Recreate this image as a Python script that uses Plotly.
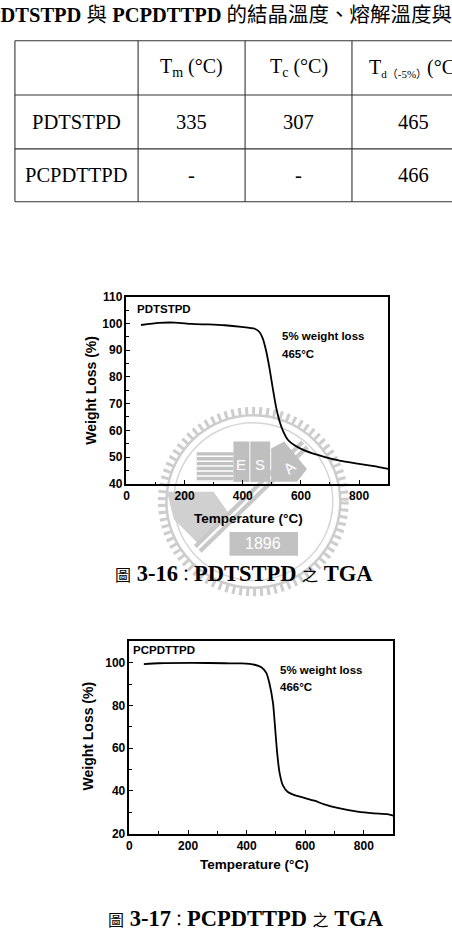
import plotly.graph_objects as go

W, H = 452, 947
def px(x): return x / W
def py(y): return 1 - y / H

# ---------------- data ----------------
temp1 = [50, 110, 167, 224, 281, 338, 395, 441, 458, 469, 481, 492, 503, 515, 526, 538, 555, 578, 612, 680, 737, 794, 851, 900]
wt1 = [99.4, 100.2, 100.3, 99.8, 99.6, 99.3, 98.7, 98.0, 96.7, 94.3, 89.4, 83.2, 75.9, 68.5, 63.6, 59.9, 56.5, 54.4, 52.5, 50.1, 48.6, 47.6, 46.6, 45.6]
temp2 = [49, 99.5, 212.6, 325.6, 382, 427, 450, 467, 478, 490, 497.5, 504, 512, 523.5, 540.5, 563, 597, 631, 665, 710, 778, 834, 880, 900]
wt2 = [99.4, 99.8, 100.0, 99.8, 99.7, 99.1, 97.9, 95.3, 90.2, 81.0, 68.7, 57.9, 48.7, 42.6, 39.5, 38.0, 36.7, 35.4, 33.7, 32.0, 30.3, 29.5, 29.1, 28.4]

table_title = "<b>PDTSTPD</b> 與 <b>PCPDTTPD</b> 的結晶溫度、熔解溫度與"
table_header = ["", "T<sub>m</sub> (°C)", "T<sub>c</sub> (°C)", "T<sub><span style='font-size:11px'>d（-5%）</span></sub>(°C)"]
table_rows = [["PDTSTPD", "335", "307", "465"],
              ["PCPDTTPD", "-", "-", "466"]]

sample1, sample2 = "PDTSTPD", "PCPDTTPD"
td1, td2 = "465", "466"
caption1 = "<span style='font-size:16px'>圖</span> <b>3-16</b><span style='font-size:16px'>：</span><b>PDTSTPD</b> <span style='font-size:16px'>之</span> <b>TGA</b>"
caption2 = "<span style='font-size:16px'>圖</span> <b>3-17</b><span style='font-size:16px'>：</span><b>PCPDTTPD</b> <span style='font-size:16px'>之</span> <b>TGA</b>"

# ---------------- figure ----------------
fig = go.Figure()
fig.add_trace(go.Scatter(x=temp1, y=wt1, mode="lines", line=dict(color="black", width=1.8, shape="spline", smoothing=0.6),
                         xaxis="x", yaxis="y", showlegend=False, hoverinfo="skip"))
fig.add_trace(go.Scatter(x=temp2, y=wt2, mode="lines", line=dict(color="black", width=1.8, shape="spline", smoothing=0.6),
                         xaxis="x2", yaxis="y2", showlegend=False, hoverinfo="skip"))

SANS = "Liberation Sans, Arial, sans-serif"
SERIF = "Liberation Serif, Times New Roman, Noto Sans CJK TC, serif"
tickfont = dict(family=SANS, size=12, color="black", weight="bold")
common = dict(showline=True, linecolor="black", linewidth=1.5, mirror=True, ticks="inside", ticklen=4,
              tickwidth=1.2, tickcolor="black", showgrid=False, zeroline=False, tickfont=tickfont, fixedrange=True)
minor_x = dict(dtick=100, ticks="inside", ticklen=2.5, tickcolor="black", tickwidth=1, showgrid=False)

fig.update_layout(
    width=W, height=H, margin=dict(l=0, r=0, t=0, b=0),
    paper_bgcolor="white", plot_bgcolor="rgba(0,0,0,0)",
    xaxis=dict(domain=[px(124.3), px(387.7)], range=[0, 900], dtick=200, anchor="y", minor=minor_x, **common),
    yaxis=dict(domain=[py(484), py(294)], range=[40, 110], dtick=10, anchor="x",
               minor=dict(dtick=5, ticks="inside", ticklen=2.5, tickcolor="black", tickwidth=1, showgrid=False), **common),
    xaxis2=dict(domain=[px(127.3), px(392.8)], range=[0, 900], dtick=200, anchor="y2", minor=minor_x, **common),
    yaxis2=dict(domain=[py(839), py(644)], range=[20, 110], tick0=20, dtick=20, anchor="x2",
                minor=dict(dtick=10, ticks="inside", ticklen=2.5, tickcolor="black", tickwidth=1, showgrid=False), **common),
)

shapes = []
annos = []

def ann(x, y, text, size, family=SANS, weight="bold", xanchor="center", color="black", angle=0):
    annos.append(dict(x=px(x), y=py(y), xref="paper", yref="paper", text=text, showarrow=False,
                      xanchor=xanchor, yanchor="middle", textangle=angle,
                      font=dict(family=family, size=size, color=color, weight=weight)))

# ---------------- watermark (decorative) ----------------
cx, cy = 252, 502
def circ(r, width, color, dash="solid"):
    shapes.append(dict(type="circle", xref="paper", yref="paper", layer="below",
                       x0=px(cx - r), x1=px(cx + r), y0=py(cy + r), y1=py(cy - r),
                       line=dict(color=color, width=width, dash=dash)))
circ(92, 8, "#cdcdcd", "3px,4px")
circ(87.5, 2.5, "#cdcdcd")
circ(80, 1.5, "#d6d6d6")

def rect(x0, y0, x1, y1, fill):
    shapes.append(dict(type="rect", xref="paper", yref="paper", layer="below",
                       x0=px(x0), x1=px(x1), y0=py(y1), y1=py(y0), fillcolor=fill, line=dict(width=0)))
def seg(x0, y0, x1, y1, color, width):
    shapes.append(dict(type="line", xref="paper", yref="paper", layer="below",
                       x0=px(x0), x1=px(x1), y0=py(y0), y1=py(y1), line=dict(color=color, width=width)))

shapes.append(dict(type="path", xref="paper", yref="paper", layer="below", fillcolor="#d0d0d0", line=dict(width=0),
                   path="M {} {} L {} {} L {} {} L {} {} L {} {} Z".format(
                       px(165), py(492), px(212), py(492), px(228), py(515), px(198), py(546), px(172), py(520))))
seg(196, 550, 304, 444, "#c8c8c8", 11)
seg(196, 550, 304, 444, "white", 2.5)
rect(195, 452, 232, 482, "#c2c2c2")
for yy in range(456, 482, 5):
    seg(195, yy, 232, yy, "white", 1.5)
rect(232, 441, 248, 482, "#bfbfbf")
rect(249, 441, 269, 482, "#bfbfbf")
shapes.append(dict(type="path", xref="paper", yref="paper", layer="below", fillcolor="#bfbfbf", line=dict(width=0),
                   path="M {} {} L {} {} L {} {} L {} {} L {} {} Z".format(
                       px(270), py(448), px(283), py(441), px(306), py(469), px(296), py(482), px(270), py(482))))
rect(228, 533, 297, 557, "#c2c2c2")
ann(240, 464, "E", 15, color="white", weight="normal")
ann(259, 464, "S", 15, color="white", weight="normal")
ann(288, 467, "A", 15, color="white", weight="normal", angle=-40)
ann(262, 545, "1896", 16, color="white", weight="normal")

# ---------------- table ----------------
col_edges = [12, 136, 243.7, 351.3, 475]
row_edges = [34.3, 89.3, 144, 197.7]
for yy in row_edges:
    seg(col_edges[0], yy, col_edges[-1], yy, "#333333", 1.1)
for xx in col_edges[:-1]:
    seg(xx, row_edges[0], xx, row_edges[-1], "#333333", 1.1)

ann(-17, 8, table_title, 20.5, family=SERIF, weight="normal", xanchor="left")
row_centers = [(row_edges[i] + row_edges[i + 1]) / 2 for i in range(3)]
col_centers = [(col_edges[i] + col_edges[i + 1]) / 2 for i in range(4)]
for j, t in enumerate(table_header):
    if not t:
        continue
    if j == 3:
        ann(366, row_centers[0], t, 20, family=SERIF, weight="normal", xanchor="left")
    else:
        ann(col_centers[j], row_centers[0], t, 20, family=SERIF, weight="normal")
for i, row in enumerate(table_rows):
    for j, t in enumerate(row):
        ann(col_centers[j], row_centers[i + 1], t, 20.5, family=SERIF, weight="normal")

# ---------------- chart labels ----------------
ann(133, 307, sample1, 11.5, xanchor="left")
ann(279, 334, "5% weight loss", 11.5, xanchor="left")
ann(279, 352, td1 + "°C", 11.5, xanchor="left")
ann(247, 519, "Temperature (°C)", 13.5)
ann(89, 389, "Weight Loss (%)", 14, angle=-90)

ann(129, 653, sample2, 11.5, xanchor="left")
ann(277, 673, "5% weight loss", 11.5, xanchor="left")
ann(277, 690, td2 + "°C", 11.5, xanchor="left")
ann(253, 870, "Temperature (°C)", 13.5)
ann(86, 740, "Weight Loss (%)", 14, angle=-90)

ann(243, 575, caption1, 22.5, family=SERIF, weight="normal")
ann(245, 925, caption2, 22.5, family=SERIF, weight="normal")

fig.update_layout(shapes=shapes, annotations=annos)
fig.write_html("out.html")
